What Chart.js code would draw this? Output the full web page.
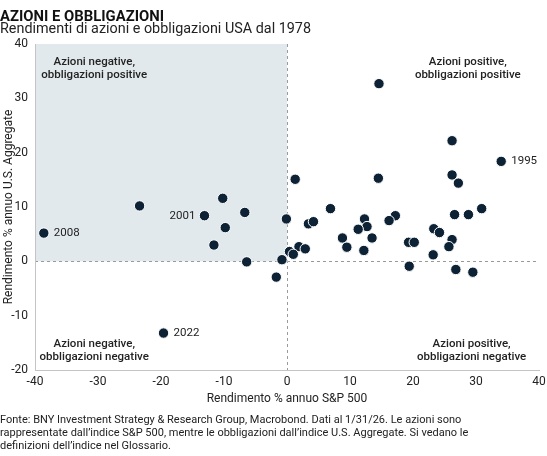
<!DOCTYPE html>
<html>
<head>
<meta charset="utf-8">
<script src="https://cdn.jsdelivr.net/npm/chart.js@4.4.1/dist/chart.umd.min.js"></script>
<style>
  html, body { margin: 0; padding: 0; background: #fff; }
  #wrap { position: relative; width: 547px; height: 456px; }
</style>
</head>
<body>
<div id="wrap"><canvas id="chart" width="547" height="456"></canvas></div>
<script>
// Annual % returns, one point per year
const sp500 = [
  -23.4, -10.2, -9.8, -11.6, -6.7, -6.4, -1.7, -0.8, -0.1,
  1.3, 14.6, 26.2, 14.5, 26.2, 27.2, 6.9, 30.9, 26.6, 28.8,
  3.4, 4.2, 12.3, 17.2, 16.2, 12.7, 11.3, 23.3, 24.2, 8.8,
  9.5, 13.5, 12.2, 19.3, 20.2, 26.2, 25.7, 23.2, 1.9, 2.9,
  0.4, 1.0, 19.4, 26.8, 29.5
];
const aggregate = [
  10.2, 11.6, 6.2, 3.0, 9.0, -0.1, -2.9, 0.3, 7.8,
  15.1, 32.7, 22.2, 15.3, 15.9, 14.4, 9.7, 9.7, 8.6, 8.6,
  6.9, 7.3, 7.8, 8.4, 7.5, 6.4, 5.9, 6.0, 5.3, 4.3,
  2.6, 4.3, 2.0, 3.5, 3.5, 4.0, 2.7, 1.2, 2.7, 2.3,
  1.8, 1.3, -0.9, -1.5, -2.0
];
const labeledYears = ['2008', '2001', '1995', '2022'];
const labeledSp500 = [-38.6, -13.1, 34.0, -19.6];
const labeledAggregate = [5.2, 8.4, 18.4, -13.2];

const xTicks = [-40, -30, -20, -10, 0, 10, 20, 30, 40];
const yTicks = [-20, -10, 0, 10, 20, 30, 40];

const quadrantNotes = [
  { x: -30.6, y: 36.6, lines: ['Azioni negative,', 'obbligazioni positive'] },
  { x: 28.7, y: 36.6, lines: ['Azioni positive,', 'obbligazioni positive'] },
  { x: -30.6, y: -15.3, lines: ['Azioni negative,', 'obbligazioni negative'] },
  { x: 29.3, y: -15.3, lines: ['Azioni positive,', 'obbligazioni negative'] }
];

const FONT = 'Roboto, "Noto Sans", sans-serif';
const DOT = '#0e2236';
const INK = '#222';

// draw text squeezed to a target width (reference face is narrower than Roboto)
function fitText(ctx, text, x, y, width) {
  const w = ctx.measureText(text).width;
  ctx.save();
  ctx.translate(x, y);
  ctx.scale(Math.min(1, width / w), 1);
  ctx.fillText(text, 0, 0);
  ctx.restore();
}

const backdrop = {
  id: 'backdrop',
  beforeDraw(chart) {
    const { ctx, scales: { x, y } } = chart;
    const x0 = x.getPixelForValue(0), y0 = y.getPixelForValue(0);
    const left = x.getPixelForValue(-40), right = x.getPixelForValue(40);
    const top = y.getPixelForValue(40), bottom = y.getPixelForValue(-20);
    ctx.save();
    // shaded quadrant: stocks down, bonds up
    ctx.fillStyle = '#e2e9ec';
    ctx.fillRect(left, top, x0 - left, y0 - top);
    ctx.strokeStyle = '#9a9a9a';
    ctx.lineWidth = 1;
    ctx.setLineDash([3, 3]);
    ctx.beginPath();
    ctx.moveTo(Math.round(x0) + 0.5, top);
    ctx.lineTo(Math.round(x0) + 0.5, bottom);
    ctx.moveTo(left, Math.round(y0) + 0.5);
    ctx.lineTo(right, Math.round(y0) + 0.5);
    ctx.stroke();
    ctx.restore();
  },
  afterDraw(chart) {
    const { ctx, scales: { x, y } } = chart;
    ctx.save();
    ctx.fillStyle = '#111';
    ctx.textAlign = 'left';
    ctx.textBaseline = 'alphabetic';
    ctx.font = 'bold 15.5px ' + FONT;
    fitText(ctx, 'AZIONI E OBBLIGAZIONI', 0, 20.5, 164);
    ctx.font = '14.5px ' + FONT;
    ctx.fillStyle = INK;
    fitText(ctx, 'Rendimenti di azioni e obbligazioni USA dal 1978', 0, 33, 311);

    // quadrant notes
    ctx.font = '500 11.5px ' + FONT;
    ctx.textAlign = 'center';
    ctx.textBaseline = 'middle';
    quadrantNotes.forEach(n => {
      const px = x.getPixelForValue(n.x), py = y.getPixelForValue(n.y);
      n.lines.forEach((t, i) => ctx.fillText(t, px, py + i * 12.8));
    });

    // year labels next to their dots
    ctx.font = '11.5px ' + FONT;
    const meta = chart.getDatasetMeta(1);
    meta.data.forEach((pt, i) => {
      const yr = labeledYears[i];
      if (yr === '2001') {
        ctx.textAlign = 'right';
        ctx.fillText(yr, pt.x - 9, pt.y);
      } else {
        ctx.textAlign = 'left';
        ctx.fillText(yr, pt.x + 10, pt.y);
      }
    });

    // footer
    ctx.textAlign = 'left';
    ctx.textBaseline = 'middle';
    ctx.font = '11px ' + FONT;
    const foot = [
      'Fonte: BNY Investment Strategy & Research Group, Macrobond. Dati al 1/31/26. Le azioni sono',
      'rappresentate dall\u2019indice S&P 500, mentre le obbligazioni dall\u2019indice U.S. Aggregate. Si vedano le',
      'definizioni dell\u2019indice nel Glossario.'
    ];
    foot.forEach((t, i) => ctx.fillText(t, 0, 420 + i * 13.2));
    ctx.restore();
  }
};

const dotStyle = {
  backgroundColor: DOT,
  borderColor: '#fff',
  borderWidth: 1,
  pointRadius: 5.2,
  pointHoverRadius: 5.2
};

new Chart(document.getElementById('chart'), {
  type: 'scatter',
  data: {
    datasets: [
      Object.assign({ label: 'Anni', data: sp500.map((v, i) => ({ x: v, y: aggregate[i] })) }, dotStyle),
      Object.assign({ label: 'Anni evidenziati', data: labeledSp500.map((v, i) => ({ x: v, y: labeledAggregate[i] })) }, dotStyle)
    ]
  },
  options: {
    responsive: false,
    animation: false,
    layout: { padding: { top: 44, right: 8, bottom: 46, left: 0 } },
    plugins: { legend: { display: false }, tooltip: { enabled: false } },
    scales: {
      x: {
        min: -40, max: 40,
        afterBuildTicks: s => { s.ticks = xTicks.map(v => ({ value: v })); },
        afterFit: s => { s.height = 40; s.paddingLeft = 0; s.paddingRight = 0; },
        grid: { display: false, drawTicks: false },
        border: { display: true, color: '#c4c4c4', width: 1 },
        ticks: { color: INK, font: { family: FONT, size: 12 }, padding: 5, maxRotation: 0 },
        title: { display: true, text: 'Rendimento % annuo S&P 500', color: INK, font: { family: FONT, size: 12 }, padding: 4 }
      },
      y: {
        min: -20, max: 40,
        afterBuildTicks: s => { s.ticks = yTicks.map(v => ({ value: v })); },
        afterFit: s => { s.width = 35; s.paddingTop = 0; s.paddingBottom = 0; },
        grid: { display: false, drawTicks: false },
        border: { display: true, color: '#c4c4c4', width: 1 },
        ticks: { color: INK, font: { family: FONT, size: 12 }, padding: 7 },
        title: { display: true, text: 'Rendimento % annuo U.S. Aggregate', color: INK, font: { family: FONT, size: 12 }, padding: 2 }
      }
    }
  },
  plugins: [backdrop]
});
</script>
</body>
</html>
